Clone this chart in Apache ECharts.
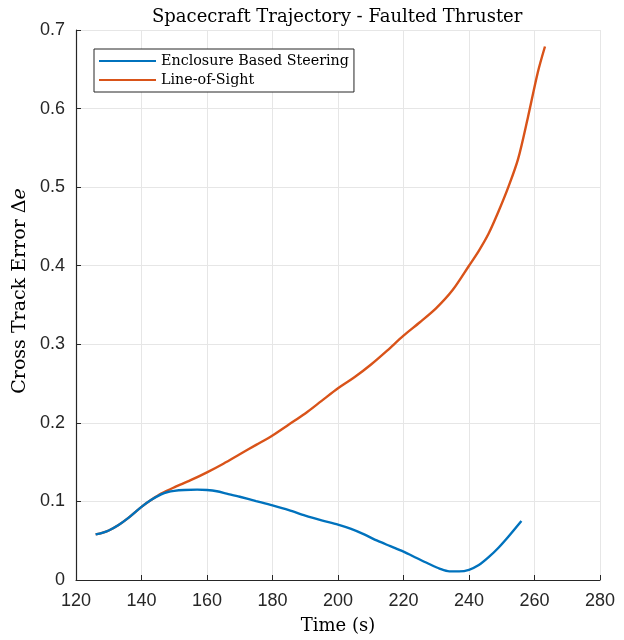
<!DOCTYPE html>
<html>
<head>
<meta charset="utf-8">
<script src="https://cdn.jsdelivr.net/npm/echarts@6/dist/echarts.min.js"></script>
<style>
  html, body { margin: 0; padding: 0; background: #fff; }
  #chart { width: 624px; height: 640px; }
</style>
</head>
<body>
<div id="chart"></div>
<script>
// Line-of-Sight
const losTime = [126, 128, 130, 133, 136, 140, 143, 146, 150, 155, 160, 165, 170, 175, 180, 185, 190, 195, 200, 205, 210, 215, 220, 225, 230, 235, 240, 243, 246, 249, 252, 255, 258, 261, 263.2]
const losError = [0.058, 0.060, 0.063, 0.070, 0.079, 0.093, 0.102, 0.110, 0.118, 0.127, 0.137, 0.148, 0.160, 0.172, 0.184, 0.198, 0.212, 0.228, 0.244, 0.258, 0.274, 0.292, 0.311, 0.328, 0.346, 0.369, 0.400, 0.419, 0.441, 0.469, 0.500, 0.536, 0.589, 0.646, 0.679]

// Enclosure Based Steering
const ebsTime = [126, 128, 130, 133, 136, 140, 143, 146, 148, 150, 153, 157, 160, 163, 166, 170, 175, 180, 185, 190, 195, 200, 204, 208, 212, 216, 220, 224, 228, 231, 234, 237, 240, 243, 246, 249, 252, 256]
const ebsError = [0.058, 0.060, 0.063, 0.070, 0.079, 0.093, 0.102, 0.109, 0.112, 0.1135, 0.1145, 0.115, 0.1145, 0.113, 0.110, 0.106, 0.1005, 0.095, 0.089, 0.082, 0.076, 0.0705, 0.065, 0.058, 0.050, 0.043, 0.036, 0.028, 0.020, 0.0145, 0.011, 0.011, 0.013, 0.019, 0.029, 0.041, 0.055, 0.075]

const xTicks = { min: 120, max: 280, interval: 20 }
const yTicks = { min: 0, max: 0.7, interval: 0.1 }

const seriesNames = ['Enclosure Based Steering', 'Line-of-Sight']
const colors = ['#0072BD', '#D95319']

const chart = echarts.init(document.getElementById('chart'))

const pairs = (xs, ys) => xs.map((x, i) => [x, ys[i]])

const serif = 'DejaVu Serif'

const axisCommon = {
  axisLine: { show: true, lineStyle: { color: '#262626', width: 1.2 } },
  axisTick: { show: true, inside: true, length: 5, lineStyle: { color: '#262626' } },
  splitLine: { show: true, lineStyle: { color: '#e6e6e6', width: 1 } },
  axisLabel: { color: '#262626', fontFamily: 'Liberation Sans', fontSize: 18 },
  nameLocation: 'middle',
  nameTextStyle: { color: '#000', fontFamily: serif, fontSize: 18 }
}

const option = {
  animation: false,
  backgroundColor: '#fff',
  color: colors,
  title: {
    text: 'Spacecraft Trajectory - Faulted Thruster',
    left: 147,
    top: 3,
    textStyle: { color: '#000', fontFamily: serif, fontSize: 18, fontWeight: 'normal' }
  },
  legend: {
    left: 94,
    top: 49,
    orient: 'vertical',
    backgroundColor: '#fff',
    borderColor: '#262626',
    borderWidth: 1,
    borderRadius: 0,
    padding: [5, 5, 5, 5],
    itemGap: 5,
    itemWidth: 57,
    itemHeight: 2,
    icon: 'rect',
    textStyle: { color: '#000', fontFamily: serif, fontSize: 14.3 },
    data: seriesNames
  },
  grid: { left: 76, right: 24, top: 30, bottom: 59 },
  xAxis: Object.assign({}, axisCommon, {
    type: 'value',
    min: xTicks.min, max: xTicks.max, interval: xTicks.interval,
    name: 'Time (s)',
    nameGap: 37,
    axisLabel: Object.assign({}, axisCommon.axisLabel, { margin: 12 })
  }),
  yAxis: Object.assign({}, axisCommon, {
    type: 'value',
    min: yTicks.min, max: yTicks.max, interval: yTicks.interval,
    name: 'Cross Track Error Δ{i|e}',
    nameGap: 46,
    nameTextStyle: Object.assign({}, axisCommon.nameTextStyle, {
      fontSize: 19,
      padding: [0, 0, 0, 28],
      rich: { i: { fontFamily: serif, fontStyle: 'italic', fontSize: 19, color: '#000' } }
    }),
    axisLabel: Object.assign({}, axisCommon.axisLabel, {
      margin: 11,
      formatter: v => (v === 0 ? '0' : v.toFixed(1))
    })
  }),
  series: [
    {
      name: seriesNames[0],
      type: 'line',
      data: pairs(ebsTime, ebsError),
      showSymbol: false,
      smooth: 0.3,
      lineStyle: { width: 2.4, color: colors[0] },
      z: 3
    },
    {
      name: seriesNames[1],
      type: 'line',
      data: pairs(losTime, losError),
      showSymbol: false,
      smooth: 0.3,
      lineStyle: { width: 2.4, color: colors[1] },
      z: 2
    }
  ]
}

chart.setOption(option)
</script>
</body>
</html>
